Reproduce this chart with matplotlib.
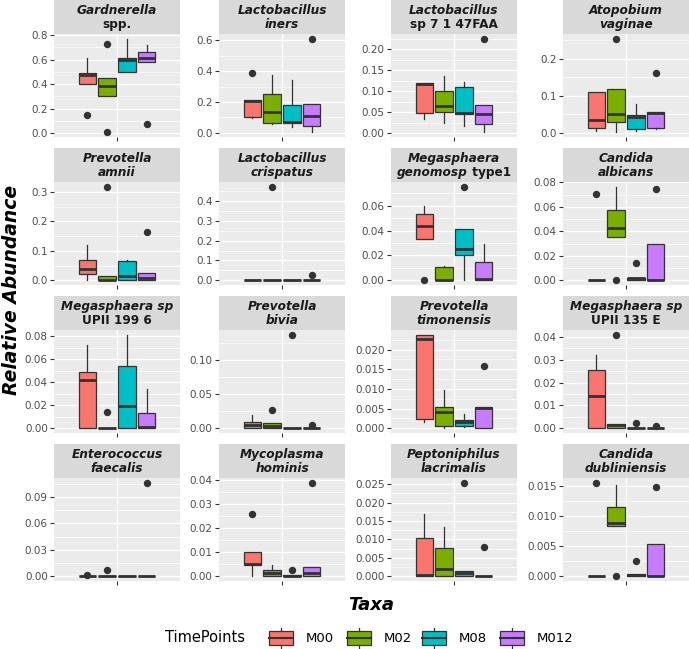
import matplotlib.pyplot as plt
from matplotlib.patches import Rectangle

# Taxa facets: strip label lines, each line as (text, italic) pieces
strip_labels = [
    [[("Gardnerella", True)], [("spp.", False)]],
    [[("Lactobacillus", True)], [("iners", True)]],
    [[("Lactobacillus", True)], [("sp 7 1 47FAA", False)]],
    [[("Atopobium", True)], [("vaginae", True)]],
    [[("Prevotella", True)], [("amnii", True)]],
    [[("Lactobacillus", True)], [("crispatus", True)]],
    [[("Megasphaera", True)], [("genomosp", True), (" type1", False)]],
    [[("Candida", True)], [("albicans", True)]],
    [[("Megasphaera sp", True)], [("UPII 199 6", False)]],
    [[("Prevotella", True)], [("bivia", True)]],
    [[("Prevotella", True)], [("timonensis", True)]],
    [[("Megasphaera sp", True)], [("UPII 135 E", False)]],
    [[("Enterococcus", True)], [("faecalis", True)]],
    [[("Mycoplasma", True)], [("hominis", True)]],
    [[("Peptoniphilus", True)], [("lacrimalis", True)]],
    [[("Candida", True)], [("dubliniensis", True)]],
]

timepoints = ["M00", "M02", "M08", "M012"]
colors = ["#F8766D", "#7CAE00", "#00BFC4", "#C77CFF"]

# box statistics per taxon, one value per time point
q1 = [
    [0.398, 0.300, 0.500, 0.580], [0.101, 0.065, 0.065, 0.047],
    [0.049, 0.050, 0.045, 0.021], [0.014, 0.030, 0.011, 0.013],
    [0.023, 0.0, 0.0, 0.0], [0.0, 0.0, 0.0, 0.0],
    [0.0328, 0.0, 0.0205, 0.0], [0.0, 0.0356, 0.0, 0.0],
    [0.0, 0.0, 0.0, 0.0], [0.0, 0.0, 0.0, 0.0],
    [0.0023, 0.0006, 0.0007, 0.0], [0.0, 0.0, 0.0, 0.0],
    [0.0, 0.0, 0.0, 0.0], [0.0047, 0.0, 0.0, 0.0],
    [0.0, 0.0, 0.0, 0.0], [0.0, 0.0084, 0.0, 0.0],
]
med = [
    [0.478, 0.388, 0.596, 0.612], [0.208, 0.135, 0.073, 0.108],
    [0.117, 0.065, 0.047, 0.045], [0.035, 0.050, 0.042, 0.053],
    [0.040, 0.001, 0.015, 0.009], [0.0, 0.0, 0.0, 0.0],
    [0.0437, 0.0, 0.025, 0.001], [0.0, 0.043, 0.0016, 0.0003],
    [0.042, 0.0, 0.0191, 0.001], [0.0049, 0.0039, 0.0, 0.0],
    [0.0227, 0.0041, 0.0016, 0.0051], [0.014, 0.0013, 0.0, 0.0],
    [0.0, 0.0, 0.0, 0.0], [0.0051, 0.0014, 0.0, 0.0012],
    [0.0004, 0.002, 0.001, 0.0], [0.0, 0.0088, 0.0002, 0.0001],
]
q3 = [
    [0.492, 0.447, 0.610, 0.660], [0.211, 0.254, 0.180, 0.187],
    [0.119, 0.101, 0.110, 0.066], [0.110, 0.118, 0.048, 0.056],
    [0.069, 0.015, 0.065, 0.026], [0.0, 0.0, 0.0, 0.0],
    [0.0533, 0.0107, 0.0416, 0.0144], [0.0, 0.0574, 0.002, 0.0297],
    [0.0487, 0.0, 0.0542, 0.0133], [0.0097, 0.0078, 0.0, 0.0005],
    [0.0238, 0.0053, 0.0022, 0.0055], [0.0255, 0.002, 0.0, 0.0],
    [0.0, 0.0, 0.0, 0.0], [0.0099, 0.0028, 0.0005, 0.0037],
    [0.0105, 0.0077, 0.0014, 0.0], [0.0, 0.0114, 0.0004, 0.0054],
]
whisk_lo = [
    [0.398, 0.300, 0.500, 0.580], [0.097, 0.060, 0.039, 0.004],
    [0.034, 0.025, 0.017, 0.002], [0.005, 0.001, 0.005, 0.011],
    [0.001, 0.0, 0.0, 0.0], [0.0, 0.0, 0.0, 0.0],
    [0.0328, 0.0, 0.0, 0.0], [0.0, 0.0356, 0.0, 0.0],
    [0.0, 0.0, 0.0, 0.0], [0.0, 0.0, 0.0, 0.0],
    [0.0016, 0.0, 0.0003, 0.0], [0.0, 0.0, 0.0, 0.0],
    [0.0, 0.0, 0.0, 0.0], [0.0, 0.0, 0.0, 0.0],
    [0.0, 0.0, 0.0, 0.0], [0.0, 0.0084, 0.0, 0.0],
]
whisk_hi = [
    [0.615, 0.447, 0.770, 0.720], [0.211, 0.372, 0.342, 0.187],
    [0.119, 0.135, 0.122, 0.066], [0.110, 0.118, 0.077, 0.056],
    [0.119, 0.015, 0.068, 0.026], [0.0, 0.0, 0.0, 0.0],
    [0.0595, 0.0115, 0.0416, 0.0293], [0.0, 0.0765, 0.002, 0.0297],
    [0.0725, 0.0, 0.0814, 0.0339], [0.020, 0.0078, 0.0, 0.0005],
    [0.0238, 0.0097, 0.0037, 0.0055], [0.0319, 0.002, 0.0, 0.0],
    [0.0, 0.0, 0.0, 0.0], [0.0099, 0.0047, 0.0005, 0.0037],
    [0.017, 0.0135, 0.0014, 0.0], [0.0, 0.0151, 0.0004, 0.0054],
]
outliers = [
    [[0.147], [0.727, 0.008], [], [0.078]],
    [[0.385], [], [], [0.609]],
    [[], [], [], [0.225]],
    [[], [0.254], [], [0.162]],
    [[], [0.318], [], [0.164]],
    [[], [0.472], [], [0.025]],
    [[0.0], [], [0.0752], []],
    [[0.0707], [0.0], [0.0144], [0.0746]],
    [[], [0.0142], [], []],
    [[], [0.027], [0.137], [0.0044]],
    [[], [], [], [0.0158]],
    [[], [0.0409], [0.0022], [0.0009]],
    [[0.001], [0.0075], [], [0.106]],
    [[0.026], [], [0.0026], [0.0389]],
    [[], [], [0.0254], [0.0079]],
    [[0.0155], [0.0], [0.0026], [0.0148]],
]

y_tick_labels = [
    ["0.0", "0.2", "0.4", "0.6", "0.8"], ["0.0", "0.2", "0.4", "0.6"],
    ["0.00", "0.05", "0.10", "0.15", "0.20"], ["0.0", "0.1", "0.2"],
    ["0.0", "0.1", "0.2", "0.3"], ["0.0", "0.1", "0.2", "0.3", "0.4"],
    ["0.00", "0.02", "0.04", "0.06"], ["0.00", "0.02", "0.04", "0.06", "0.08"],
    ["0.00", "0.02", "0.04", "0.06", "0.08"], ["0.00", "0.05", "0.10"],
    ["0.000", "0.005", "0.010", "0.015", "0.020"], ["0.00", "0.01", "0.02", "0.03", "0.04"],
    ["0.00", "0.03", "0.06", "0.09"], ["0.00", "0.01", "0.02", "0.03", "0.04"],
    ["0.000", "0.005", "0.010", "0.015", "0.020", "0.025"], ["0.000", "0.005", "0.010", "0.015"],
]

W, H = 689, 649
fig = plt.figure(figsize=(W / 100, H / 100), dpi=100)
plt.rcParams["font.family"] = "DejaVu Sans"


def frac(x, y, w, h):
    return [x / W, 1 - (y + h) / H, w / W, h / H]


col_left = [54, 219, 391, 563]
panel_w, panel_h, strip_h, row_pitch = 126, 103, 34, 148
dodge = 0.1875
renderer = fig.canvas.get_renderer()

for k in range(16):
    r, c = divmod(k, 4)
    top = r * row_pitch
    ax = fig.add_axes(frac(col_left[c], top + strip_h, panel_w, panel_h))
    ax.set_facecolor("#EBEBEB")
    for s in ax.spines.values():
        s.set_visible(False)

    stats = []
    for i in range(4):
        stats.append(dict(med=med[k][i], q1=q1[k][i], q3=q3[k][i],
                          whislo=whisk_lo[k][i], whishi=whisk_hi[k][i],
                          fliers=outliers[k][i]))
    pos = [1 + (i - 1.5) * dodge for i in range(4)]
    bp = ax.bxp(stats, positions=pos, widths=0.17, patch_artist=True,
                showcaps=False, manage_ticks=False,
                boxprops=dict(edgecolor="#333333", linewidth=0.9),
                medianprops=dict(color="#333333", linewidth=2.0),
                whiskerprops=dict(color="#333333", linewidth=0.9),
                flierprops=dict(marker="o", markerfacecolor="#333333",
                                markeredgecolor="#333333", markersize=4.3))
    for patch, col in zip(bp["boxes"], colors):
        patch.set_facecolor(col)
    for a in bp["boxes"] + bp["medians"] + bp["whiskers"] + bp["fliers"]:
        a.set_zorder(3)

    ticks = [float(t) for t in y_tick_labels[k]]
    ax.set_yticks(ticks)
    ax.set_yticklabels(y_tick_labels[k])
    step = ticks[1] - ticks[0]
    minors = [ticks[0] - step / 2 + j * step for j in range(len(ticks) + 1)]
    ax.set_yticks(minors, minor=True)
    ax.set_xticks([1])
    ax.set_xticklabels([""])

    # limits after the ticks, since set_yticks widens the view
    vals = [v for i in range(4) for v in
            [whisk_lo[k][i], whisk_hi[k][i]] + outliers[k][i]]
    lo, hi = min(vals), max(vals)
    pad = (hi - lo) * 0.05
    ax.set_ylim(lo - pad, hi + pad)
    ax.set_xlim(0.4, 1.6)

    ax.tick_params(axis="both", which="major", length=3, width=0.8,
                   color="#333333", labelsize=7.5, labelcolor="#4D4D4D", pad=1.5)
    ax.tick_params(axis="y", which="minor", length=0)
    ax.grid(True, which="major", color="white", linewidth=1.0)
    ax.grid(True, which="minor", axis="y", color="white", linewidth=0.5)
    ax.set_axisbelow(True)

    # strip
    sax = fig.add_axes(frac(col_left[c], top, panel_w, strip_h))
    sax.set_facecolor("#D9D9D9")
    sax.set_xticks([])
    sax.set_yticks([])
    for s in sax.spines.values():
        s.set_visible(False)
    for li, line in enumerate(strip_labels[k]):
        yy = 0.70 if li == 0 else 0.27
        texts = []
        for txt, ital in line:
            t = sax.text(0, yy, txt, transform=sax.transAxes, fontsize=8.7,
                         fontweight="bold", color="#1A1A1A",
                         style="italic" if ital else "normal",
                         ha="left", va="center")
            texts.append(t)
        widths = [t.get_window_extent(renderer).width / (panel_w) for t in texts]
        x0 = 0.5 - sum(widths) / 2
        for t, wd in zip(texts, widths):
            t.set_x(x0)
            x0 += wd

# axis titles and legend in a full-figure overlay
ov = fig.add_axes([0, 0, 1, 1], facecolor="none")
ov.set_xlim(0, W)
ov.set_ylim(H, 0)
ov.axis("off")
ov.text(12, 290, "Relative Abundance", rotation=90, fontsize=13.5,
        fontweight="bold", style="italic", ha="center", va="center")
ov.text(371, 605, "Taxa", fontsize=13, fontweight="bold", style="italic",
        ha="center", va="center")

ov.text(165, 638, "TimePoints", fontsize=10.5, ha="left", va="center")
key_x = [281, 359, 434, 512]
for kx, col, lab in zip(key_x, colors, timepoints):
    ov.add_patch(Rectangle((kx - 12, 638 - 7), 24, 14, facecolor=col,
                           edgecolor="#333333", linewidth=0.9))
    ov.plot([kx - 12, kx + 12], [638, 638], color="#333333", lw=1.5)
    ov.plot([kx, kx], [638 - 10, 638 - 7], color="#333333", lw=0.9)
    ov.plot([kx, kx], [638 + 7, 638 + 10], color="#333333", lw=0.9)
    ov.text(kx + 25, 638, lab, fontsize=9.5, ha="left", va="center")

fig.savefig("out.png", dpi=100)
